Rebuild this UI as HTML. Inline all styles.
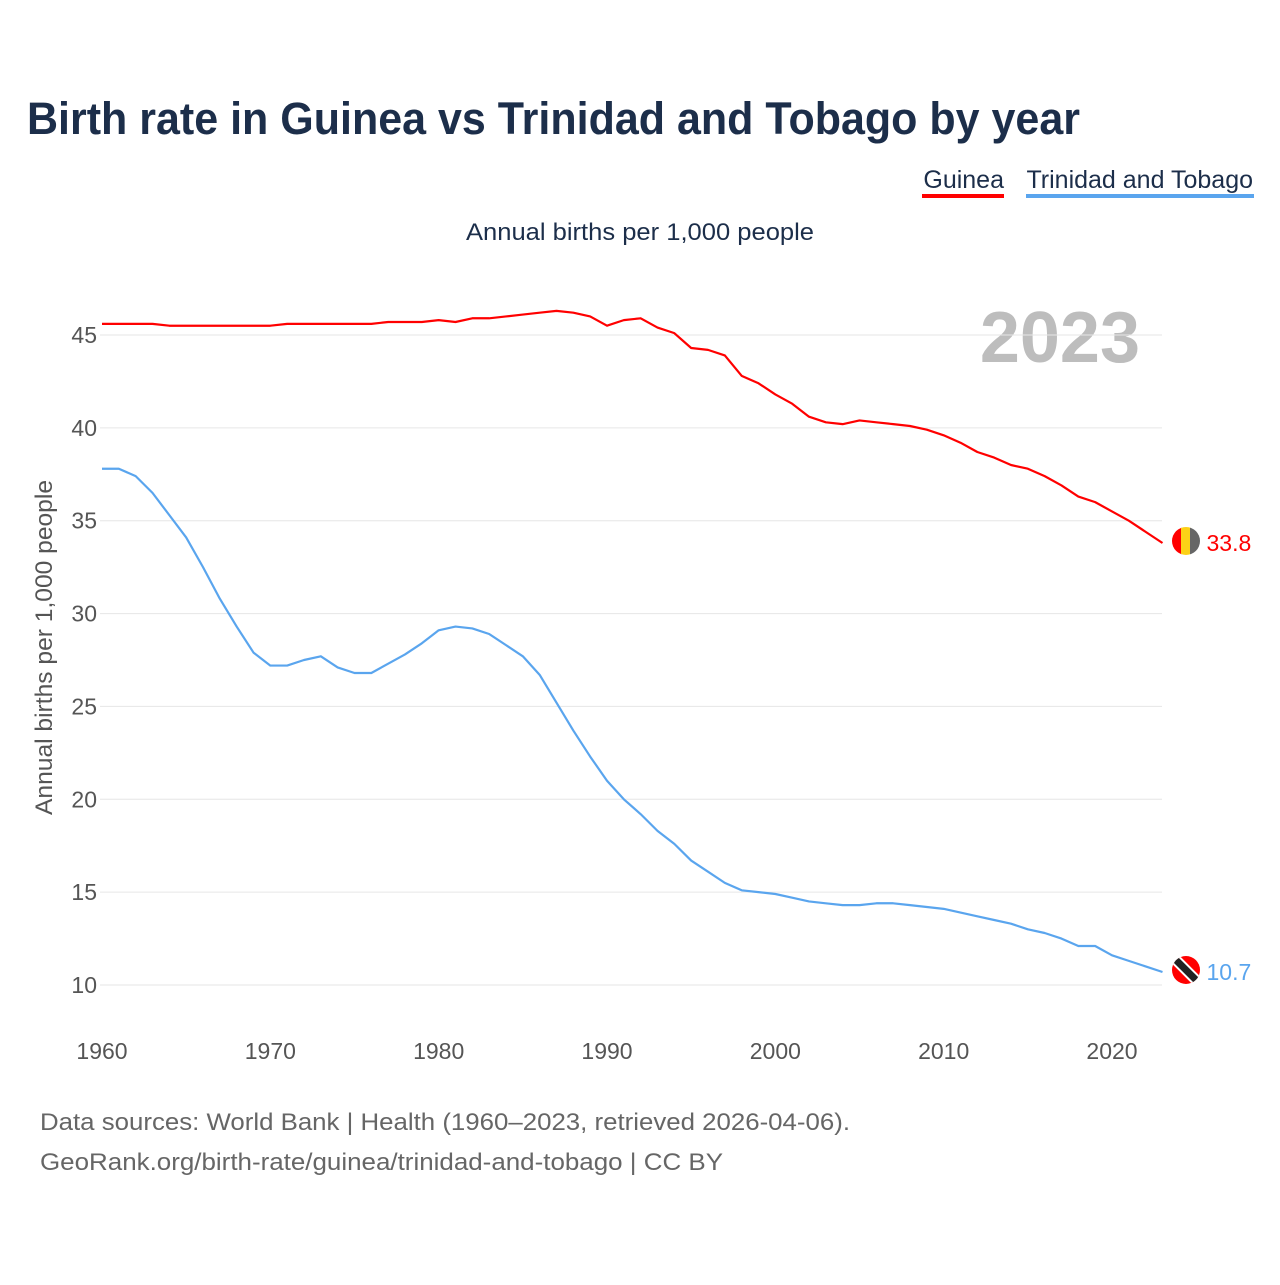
<!DOCTYPE html>
<html><head><meta charset="utf-8"><style>
body{margin:0;background:#fff;font-family:"Liberation Sans",sans-serif;}
#wrap{position:relative;width:1280px;height:1280px;}
</style></head><body>
<div id="wrap">
<svg id="svg" width="1280" height="1280" xmlns="http://www.w3.org/2000/svg">
<defs>
<clipPath id="cg"><circle cx="1186" cy="541" r="14"/></clipPath>
<clipPath id="ct"><circle cx="1186" cy="970" r="14"/></clipPath>
</defs>
<text x="27" y="134" font-size="45" font-weight="bold" fill="#1c2e4a" textLength="1053" lengthAdjust="spacingAndGlyphs">Birth rate in Guinea vs Trinidad and Tobago by year</text>
<g><text x="1004" y="188" font-size="25" fill="#1c2e4a" text-anchor="end">Guinea</text><rect x="922" y="194" width="82" height="4" fill="#f00"/></g>
<g><text x="1253" y="188" font-size="25" fill="#1c2e4a" text-anchor="end">Trinidad and Tobago</text><rect x="1026" y="194" width="228" height="4" fill="#5aa5ee"/></g>
<text x="466" y="240" font-size="24" fill="#1c2e4a" textLength="348" lengthAdjust="spacingAndGlyphs">Annual births per 1,000 people</text>
<text x="1140" y="362" font-size="72" font-weight="bold" fill="#bdbdbd" text-anchor="end">2023</text>
<text transform="translate(52,815) rotate(-90)" font-size="24" fill="#555" textLength="335" lengthAdjust="spacingAndGlyphs">Annual births per 1,000 people</text>
<g id="grid"></g><g id="xt"></g><g id="lines"></g>
<g clip-path="url(#cg)">
<rect x="1172" y="527" width="10" height="28" fill="#f00"/><rect x="1181" y="527" width="10" height="28" fill="#fcd116"/><rect x="1190" y="527" width="10" height="28" fill="#666"/></g>
<g clip-path="url(#ct)">
<rect x="1172" y="956" width="28" height="28" fill="#f00"/>
<line x1="1174" y1="958" x2="1198" y2="982" stroke="#fff" stroke-width="11"/>
<line x1="1174" y1="958" x2="1198" y2="982" stroke="#222" stroke-width="7"/></g>
<text x="40" y="1130" font-size="24" fill="#666" textLength="810" lengthAdjust="spacingAndGlyphs">Data sources: World Bank | Health (1960–2023, retrieved 2026-04-06).</text>
<text x="40" y="1170" font-size="24" fill="#666" textLength="683" lengthAdjust="spacingAndGlyphs">GeoRank.org/birth-rate/guinea/trinidad-and-tobago | CC BY</text>
</svg></div>
<script>
const years=[];for(let y=1960;y<=2023;y++)years.push(y);
const guinea=[45.6,45.6,45.6,45.6,45.5,45.5,45.5,45.5,45.5,45.5,45.5,45.6,45.6,45.6,45.6,45.6,45.6,45.7,45.7,45.7,45.8,45.7,45.9,45.9,46.0,46.1,46.2,46.3,46.2,46.0,45.5,45.8,45.9,45.4,45.1,44.3,44.2,43.9,42.8,42.4,41.8,41.3,40.6,40.3,40.2,40.4,40.3,40.2,40.1,39.9,39.6,39.2,38.7,38.4,38.0,37.8,37.4,36.9,36.3,36.0,35.5,35.0,34.4,33.8];
const trinidad=[37.8,37.8,37.4,36.5,35.3,34.1,32.5,30.8,29.3,27.9,27.2,27.2,27.5,27.7,27.1,26.8,26.8,27.3,27.8,28.4,29.1,29.3,29.2,28.9,28.3,27.7,26.7,25.2,23.7,22.3,21.0,20.0,19.2,18.3,17.6,16.7,16.1,15.5,15.1,15.0,14.9,14.7,14.5,14.4,14.3,14.3,14.4,14.4,14.3,14.2,14.1,13.9,13.7,13.5,13.3,13.0,12.8,12.5,12.1,12.1,11.6,11.3,11.0,10.7];
const yTicks=[10,15,20,25,30,35,40,45];
const xTicks=[1960,1970,1980,1990,2000,2010,2020];
const X=v=>102+(v-1960)*(1010/60);
const Y=v=>985-(v-10)*(650/35);
const NS="http://www.w3.org/2000/svg";
function mk(t,a,p){const e=document.createElementNS(NS,t);for(const k in a)e.setAttribute(k,a[k]);p.appendChild(e);return e;}
const grid=document.getElementById('grid');
yTicks.forEach(t=>{
 const l=mk('line',{x1:100,x2:1162,y1:Y(t),y2:Y(t),stroke:'#e6e6e6','stroke-width':1},grid);
 
 
 const tx=mk('text',{x:97,y:Y(t)+8,'font-size':23,fill:'#555','text-anchor':'end'},grid);tx.textContent=t;
 
 
});
const xt=document.getElementById('xt');
xTicks.forEach(t=>{
 const tx=mk('text',{x:X(t),y:1059,'font-size':23,fill:'#555','text-anchor':'middle'},xt);tx.textContent=t;
 
 
});
const lines=document.getElementById('lines');
function series(vals,col,name){
 const p=mk('polyline',{points:vals.map((v,i)=>X(years[i])+','+Y(v)).join(' '),fill:'none',stroke:col,'stroke-width':2.2,'stroke-linejoin':'round'},lines);
 
 
 const last=vals[vals.length-1];
 const lx=X(years[years.length-1]);
 const t=mk('text',{x:lx+44,y:Y(last)+8,'font-size':23,fill:col},lines);t.textContent=last.toFixed(1);
 
 
}
series(guinea,'#f00','guinea');
series(trinidad,'#5aa5ee','trinidad');
</script></body></html>
